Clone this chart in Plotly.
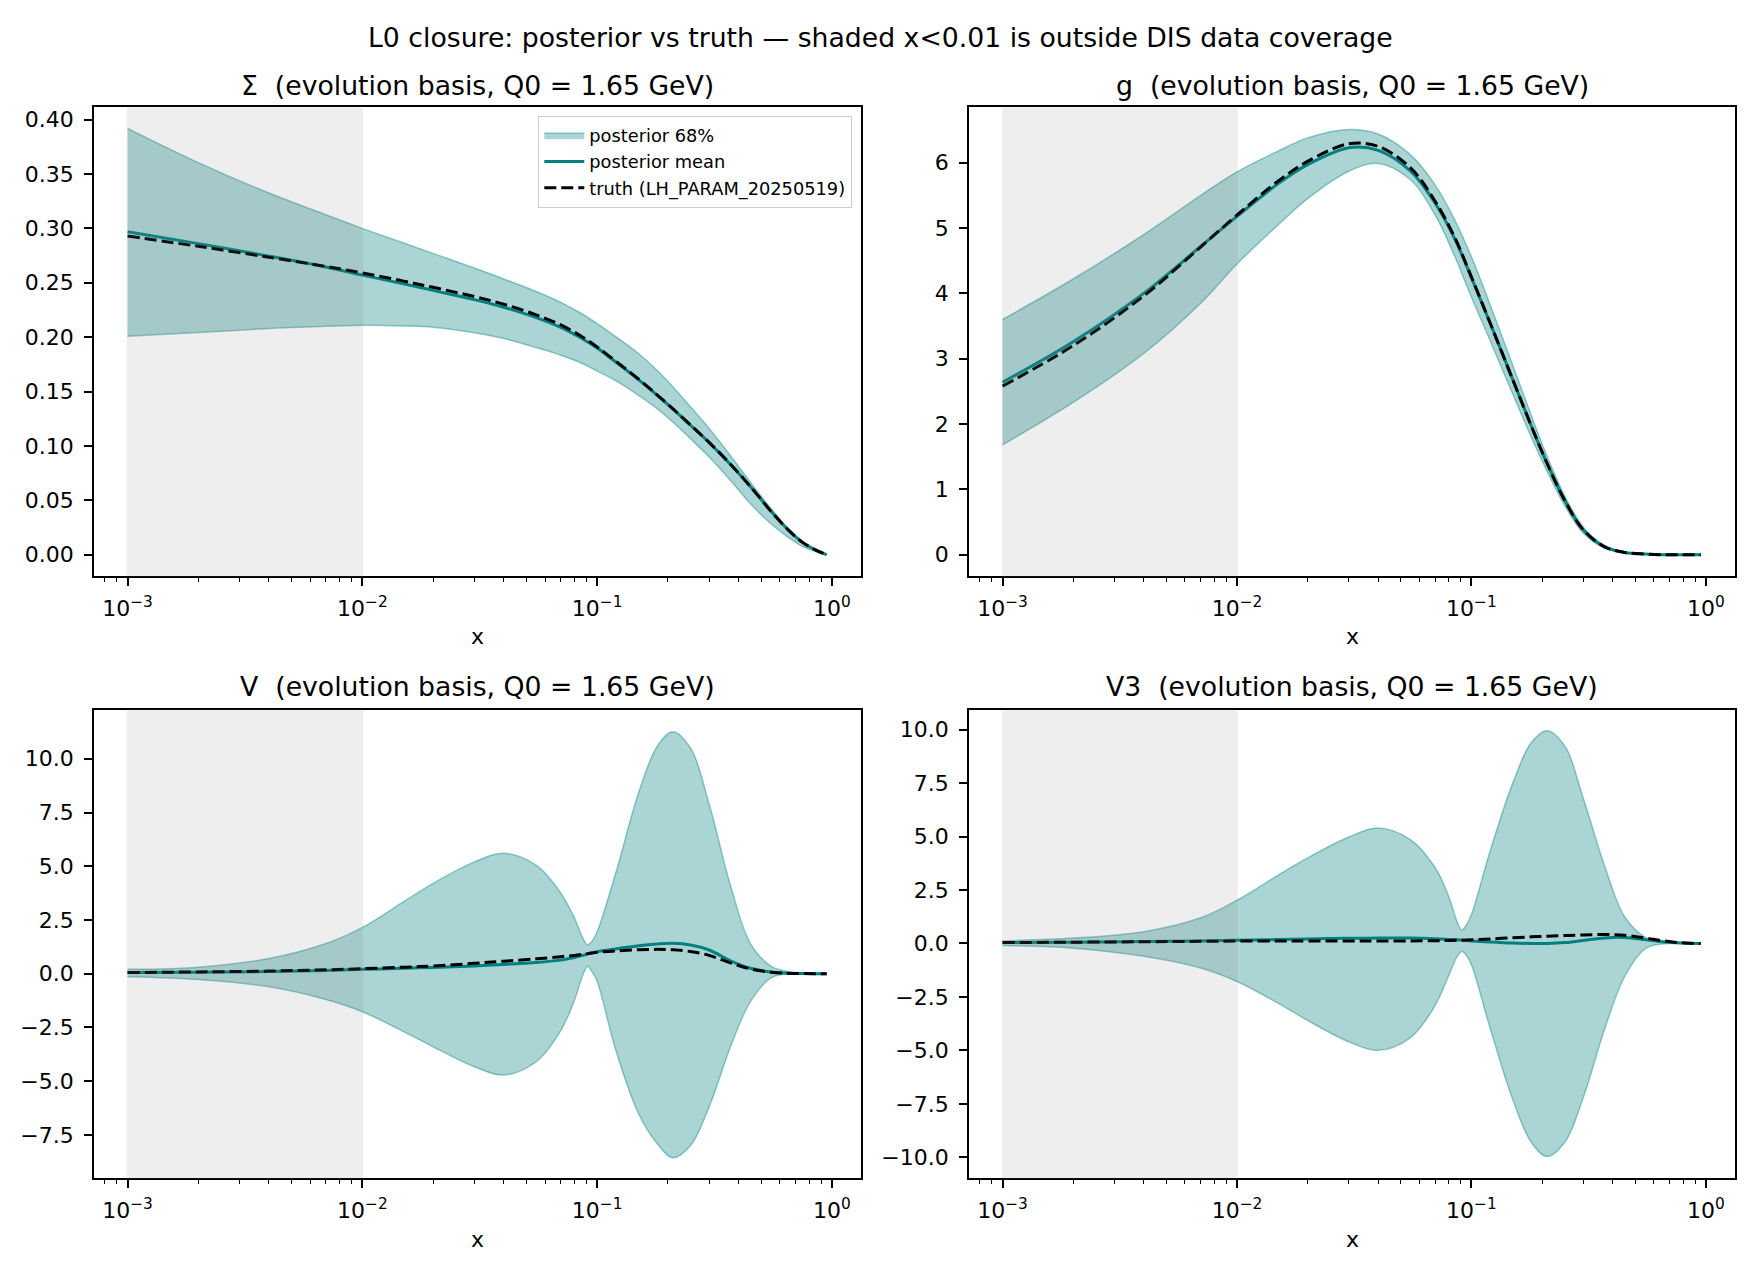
import plotly.graph_objects as go

# ---------------- data ----------------
# x grid for the Σ and g panels
X_SG = [0.001, 0.002, 0.004, 0.007, 0.01, 0.015, 0.02, 0.03, 0.04, 0.055, 0.07, 0.085, 0.1,
        0.12, 0.15, 0.18, 0.21, 0.25, 0.3, 0.37, 0.45, 0.55, 0.65, 0.75, 0.85, 0.95]
# x grid for the V and V3 panels (denser around the pinch near x≈0.09)
X_V = [0.001, 0.002, 0.004, 0.007, 0.01, 0.015, 0.02, 0.03, 0.04, 0.055, 0.07, 0.08,
       0.087, 0.091, 0.095, 0.1, 0.12, 0.15, 0.18, 0.21, 0.25, 0.3, 0.37, 0.45, 0.55,
       0.65, 0.75, 0.85, 0.95]

SIGMA_HI = [0.392, 0.3605, 0.3325, 0.3125, 0.300, 0.2865, 0.277, 0.2635, 0.2535, 0.242, 0.232, 0.2222, 0.2125,
            0.2005, 0.185, 0.1695, 0.1545, 0.136, 0.116, 0.091, 0.0665, 0.0425, 0.024, 0.0115, 0.0045, 0.0]
SIGMA_LO = [0.2009, 0.2042, 0.208, 0.210, 0.211, 0.2103, 0.209, 0.204, 0.1987, 0.1904, 0.1834, 0.1765, 0.1688,
            0.160, 0.1465, 0.1343, 0.122, 0.1066, 0.0898, 0.0683, 0.0468, 0.0284, 0.0161, 0.0075, 0.003, 0.0]
SIGMA_MEAN = [0.297, 0.286, 0.2745, 0.2645, 0.257, 0.249, 0.243, 0.2345, 0.2275, 0.218, 0.209, 0.1995, 0.190,
              0.1772, 0.161, 0.1467, 0.134, 0.119, 0.103, 0.083, 0.0625, 0.040, 0.023, 0.0113, 0.0045, 0.0]
SIGMA_TRUTH = [0.293, 0.2835, 0.2735, 0.265, 0.259, 0.2515, 0.2458, 0.2373, 0.2303, 0.2205, 0.2112, 0.2013, 0.191,
               0.178, 0.1615, 0.147, 0.1342, 0.1192, 0.1032, 0.0832, 0.0626, 0.040, 0.023, 0.0113, 0.0045, 0.0]

G_HI = [3.60, 4.22, 4.90, 5.50, 5.86, 6.18, 6.38, 6.51, 6.44, 6.12, 5.66, 5.12, 4.56,
        3.83, 2.90, 2.13, 1.51, 0.90, 0.42, 0.14, 0.04, 0.012, 0.0, 0.0, 0.0, 0.0]
G_LO = [1.68, 2.33, 3.08, 3.85, 4.45, 5.05, 5.45, 5.87, 5.99, 5.74, 5.20, 4.56, 3.94,
        3.28, 2.46, 1.80, 1.28, 0.75, 0.33, 0.10, 0.028, 0.008, 0.0, 0.0, 0.0, 0.0]
G_MEAN = [2.64, 3.26, 4.00, 4.72, 5.18, 5.68, 5.97, 6.23, 6.19, 5.87, 5.38, 4.83, 4.24,
          3.55, 2.68, 1.97, 1.40, 0.83, 0.38, 0.12, 0.035, 0.01, 0.0, 0.0, 0.0, 0.0]
G_TRUTH = [2.58, 3.20, 3.96, 4.71, 5.20, 5.72, 6.02, 6.29, 6.25, 5.92, 5.41, 4.85, 4.25,
           3.55, 2.68, 1.97, 1.40, 0.83, 0.38, 0.12, 0.035, 0.01, 0.0, 0.0, 0.0, 0.0]

V_HI = [0.2, 0.3, 0.7, 1.4, 2.15, 3.35, 4.2, 5.2, 5.6, 5.05, 3.75, 2.6,
        1.65, 1.33, 1.5, 1.95, 4.67, 8.4, 10.56, 11.26, 10.5, 7.9, 4.1, 1.4,
        0.35, 0.1, 0.03, 0.01, 0.0]
V_LO = [-0.14, -0.27, -0.61, -1.2, -1.77, -2.7, -3.4, -4.33, -4.72, -4.1, -2.65, -1.25,
        -0.05, 0.35, 0.1, -0.35, -3.55, -6.5, -7.9, -8.57, -8.0, -6.2, -3.4, -1.3,
        -0.2, 0.0, 0.01, 0.0, 0.0]
V_MEAN = [0.05, 0.07, 0.1, 0.15, 0.2, 0.25, 0.29, 0.36, 0.43, 0.52, 0.63, 0.75,
          0.85, 0.92, 0.97, 1.02, 1.15, 1.3, 1.38, 1.41, 1.33, 1.1, 0.6, 0.25,
          0.08, 0.02, 0.005, 0.0, 0.0]
V_TRUTH = [0.05, 0.08, 0.12, 0.18, 0.23, 0.3, 0.36, 0.48, 0.58, 0.69, 0.79, 0.85,
           0.9, 0.93, 0.96, 0.99, 1.06, 1.11, 1.13, 1.11, 1.03, 0.85, 0.5, 0.22,
           0.07, 0.02, 0.005, 0.0, 0.0]

V3_HI = [0.12, 0.25, 0.55, 1.2, 2.02, 3.2, 4.0, 4.98, 5.4, 4.85, 3.55, 2.2,
         1.0, 0.63, 0.85, 1.35, 4.3, 7.5, 9.4, 9.95, 9.24, 6.78, 3.62, 1.25,
         0.3, 0.08, 0.03, 0.01, 0.0]
V3_LO = [-0.1, -0.22, -0.6, -1.15, -1.78, -2.8, -3.6, -4.6, -5.0, -4.4, -2.9, -1.5,
         -0.6, -0.37, -0.55, -1.0, -3.94, -7.3, -9.3, -9.97, -9.3, -7.2, -4.0, -1.55,
         -0.25, -0.02, 0.0, 0.0, 0.0]
V3_MEAN = [0.04, 0.06, 0.09, 0.12, 0.15, 0.18, 0.21, 0.24, 0.25, 0.25, 0.22, 0.19,
           0.17, 0.16, 0.14, 0.12, 0.07, 0.02, 0.0, 0.0, 0.04, 0.14, 0.26, 0.28,
           0.18, 0.08, 0.03, 0.01, 0.0]
V3_TRUTH = [0.04, 0.06, 0.08, 0.1, 0.11, 0.12, 0.12, 0.12, 0.12, 0.12, 0.13, 0.14,
            0.15, 0.15, 0.16, 0.17, 0.21, 0.27, 0.31, 0.34, 0.37, 0.4, 0.42, 0.38,
            0.26, 0.13, 0.05, 0.01, 0.0]

PANEL_NAMES = ["Σ", "g", "V", "V3"]
SUPTITLE = "L0 closure: posterior vs truth — shaded x<0.01 is outside DIS data coverage"
TITLE_SUFFIX = "  (evolution basis, Q0 = 1.65 GeV)"
LEGEND_NAMES = ["posterior 68%", "posterior mean", "truth (LH_PARAM_20250519)"]
X_TICKS = [1e-3, 1e-2, 1e-1, 1.0]
X_TICKTEXT = ["10<sup>−3</sup>", "10<sup>−2</sup>", "10<sup>−1</sup>", "10<sup>0</sup>"]
SHADE_X = (1e-3, 1e-2)

# ---------------- style / layout ----------------
W, H = 1760, 1280
FONT = "DejaVu Sans"
TEAL = "#008080"
FILL = "rgba(0,128,128,0.33)"
EDGE = "rgba(0,128,128,0.40)"
SMOOTH = 1.0

panels = [
    (X_SG, SIGMA_LO, SIGMA_HI, SIGMA_MEAN, SIGMA_TRUTH, [-0.0196, 0.4116], 0.05, ".2f"),
    (X_SG, G_LO, G_HI, G_MEAN, G_TRUTH, [-0.326, 6.853], 1, "d"),
    (X_V, V_LO, V_HI, V_MEAN, V_TRUTH, [-9.51, 12.27], 2.5, ".1f"),
    (X_V, V3_LO, V3_HI, V3_MEAN, V3_TRUTH, [-10.97, 10.92], 2.5, ".1f"),
]

xdoms = [[94 / W, 861 / W], [969 / W, 1735 / W]]
ydoms = [[1 - 576 / H, 1 - 107 / H], [1 - 1178 / H, 1 - 710 / H]]
title_y = [1 - 85 / H, 1 - 686 / H]
xlabel_y = [1 - 636 / H, 1 - 1239 / H]

minor_vals = [m * 10.0 ** e for e in range(-4, 1) for m in range(2, 10)]

fig = go.Figure()
layout = dict(
    width=W, height=H, margin=dict(l=0, r=0, t=0, b=0),
    paper_bgcolor="white", plot_bgcolor="white",
    font=dict(family=FONT, size=22, color="black"),
    showlegend=True,
    legend=dict(x=852 / W, y=1 - 116 / H, xanchor="right", yanchor="top",
                bgcolor="rgba(255,255,255,0.85)", bordercolor="#cccccc", borderwidth=1.3,
                font=dict(family=FONT, size=17.8, color="black"),
                itemwidth=40, tracegroupgap=0, traceorder="normal"),
    annotations=[], shapes=[],
)

for i, (xs, lo, hi, mean, truth, yr, dt, fmt) in enumerate(panels):
    r, c = divmod(i, 2)
    n = "" if i == 0 else str(i + 1)
    xa, ya = "x" + n, "y" + n
    show = i == 0
    fig.add_trace(go.Scatter(x=xs, y=lo, mode="lines", xaxis=xa, yaxis=ya,
                             line=dict(color=EDGE, width=1.5, shape="spline", smoothing=SMOOTH),
                             showlegend=False, hoverinfo="skip"))
    fig.add_trace(go.Scatter(x=xs, y=hi, mode="lines", xaxis=xa, yaxis=ya, fill="tonexty",
                             fillcolor=FILL, name=LEGEND_NAMES[0], legendgroup="band",
                             line=dict(color=EDGE, width=1.5, shape="spline", smoothing=SMOOTH),
                             showlegend=show))
    fig.add_trace(go.Scatter(x=xs, y=mean, mode="lines", xaxis=xa, yaxis=ya,
                             name=LEGEND_NAMES[1], legendgroup="mean",
                             line=dict(color=TEAL, width=3, shape="spline", smoothing=SMOOTH),
                             showlegend=show))
    fig.add_trace(go.Scatter(x=xs, y=truth, mode="lines", xaxis=xa, yaxis=ya,
                             name=LEGEND_NAMES[2], legendgroup="truth",
                             line=dict(color="black", width=3, dash="12px,5px",
                                       shape="spline", smoothing=SMOOTH),
                             showlegend=show))

    common = dict(showline=True, linecolor="black", linewidth=1.8, mirror=True,
                  ticks="outside", ticklen=8, tickwidth=1.8, tickcolor="black",
                  showgrid=False, zeroline=False,
                  tickfont=dict(family=FONT, size=22, color="black"))
    layout["xaxis" + n] = dict(common, type="log", range=[-3.143, 0.124],
                               domain=xdoms[c], anchor=ya,
                               tickmode="array", tickvals=X_TICKS, ticktext=X_TICKTEXT,
                               ticklabelstandoff=4,
                               minor=dict(tickmode="array", tickvals=minor_vals,
                                          ticks="outside", ticklen=4.4, tickwidth=1.3,
                                          tickcolor="black", showgrid=False))
    layout["yaxis" + n] = dict(common, range=yr, domain=ydoms[r], anchor=xa,
                               tickmode="linear", tick0=0, dtick=dt, tickformat=fmt,
                               ticklabelstandoff=6)

    layout["shapes"].append(dict(type="rect", xref=xa, yref=ya + " domain",
                                 x0=SHADE_X[0], x1=SHADE_X[1], y0=0, y1=1,
                                 fillcolor="gray", opacity=0.13, layer="above",
                                 line=dict(color="gray", width=1.5)))

    xc = (xdoms[c][0] + xdoms[c][1]) / 2
    layout["annotations"].append(dict(text=PANEL_NAMES[i] + TITLE_SUFFIX, x=xc, y=title_y[r],
                                      xref="paper", yref="paper", showarrow=False,
                                      xanchor="center", yanchor="middle",
                                      font=dict(family=FONT, size=26.7, color="black")))
    layout["annotations"].append(dict(text="x", x=xc, y=xlabel_y[r],
                                      xref="paper", yref="paper", showarrow=False,
                                      xanchor="center", yanchor="middle",
                                      font=dict(family=FONT, size=22, color="black")))

layout["annotations"].append(dict(text=SUPTITLE, x=0.5, y=1 - 37 / H, xref="paper", yref="paper",
                                  showarrow=False, xanchor="center", yanchor="middle",
                                  font=dict(family=FONT, size=26.7, color="black")))

fig.update_layout(**layout)
fig.write_html("out.html")
